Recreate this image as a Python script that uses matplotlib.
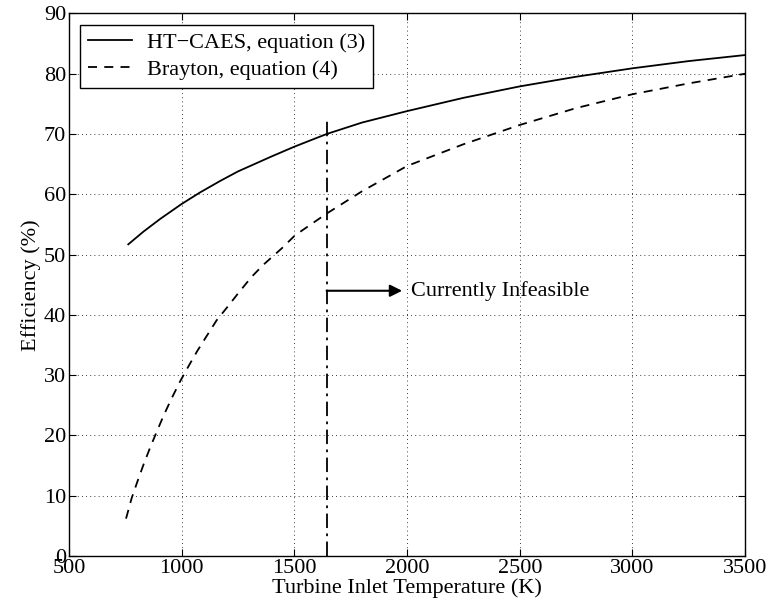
import matplotlib
matplotlib.use("Agg")
import matplotlib.pyplot as plt

# values
ht_temp = [763, 830, 904, 1000, 1081, 1170, 1250, 1400, 1500, 1643, 1800, 2000,
           2250, 2500, 2750, 3000, 3250, 3500]
ht_eff = [51.7, 53.8, 55.9, 58.4, 60.3, 62.2, 63.8, 66.3, 67.9, 70.0, 71.9, 73.8,
          76.0, 77.9, 79.5, 80.9, 82.1, 83.1]

br_temp = [753, 778, 803, 830, 859, 889, 921, 956, 992, 1029, 1069, 1111, 1155,
           1207, 1251, 1310, 1362, 1443, 1503, 1643, 1800, 2000, 2250, 2500,
           2750, 3000, 3250, 3500]
br_eff = [6.2, 9.6, 12.3, 15.1, 17.9, 20.6, 23.4, 26.2, 28.9, 31.4, 34.0, 36.5, 39.1,
          41.5, 43.6, 46.3, 48.3, 51.0, 53.2, 56.8, 60.5, 64.7, 68.3, 71.5,
          74.3, 76.6, 78.4, 80.0]

limit_temp = 1643
limit_top = 72.7
arrow_y = 44
arrow_end = 1978

plt.rcParams['font.family'] = ['Liberation Serif', 'DejaVu Serif']
plt.rcParams['font.size'] = 16

fig = plt.figure(figsize=(7.71, 6.11), dpi=100)
ax = fig.add_axes([0.0895, 0.09, 0.877, 0.888])

ax.plot(ht_temp, ht_eff, 'k-', lw=1.3, label='HT\u2212CAES, equation (3)')
ax.plot(br_temp, br_eff, 'k--', lw=1.3, dashes=(5, 4), label='Brayton, equation (4)')
ax.plot([limit_temp, limit_temp], [0, limit_top], 'k-.', lw=1.3, dashes=(8, 3, 1.5, 3))
ax.annotate('', xy=(arrow_end, arrow_y), xytext=(limit_temp, arrow_y),
            arrowprops=dict(arrowstyle='-|>', color='k', lw=1.5,
                            mutation_scale=18, shrinkA=0, shrinkB=0))
ax.text(arrow_end + 40, arrow_y, 'Currently Infeasible', va='center', ha='left', fontsize=16)

ax.set_xlim(500, 3500)
ax.set_ylim(0, 90)
ax.set_xticks(range(500, 3501, 500))
ax.set_yticks(range(0, 91, 10))
ax.grid(True, color='k', linestyle=(0, (1, 4)), lw=0.6)
ax.tick_params(direction='in', top=True, right=True, length=5, pad=2, labelsize=16)
for s in ax.spines.values():
    s.set_linewidth(1.0)

ax.set_xlabel('Turbine Inlet Temperature (K)', fontsize=16, labelpad=0)
ax.set_ylabel('Efficiency (%)', fontsize=16, labelpad=2)

leg = ax.legend(loc='upper left', fontsize=16, fancybox=False, framealpha=1,
                edgecolor='k', handlelength=2.0, borderaxespad=0.5,
                labelspacing=0.3, borderpad=0.35, handletextpad=0.65)
leg.get_frame().set_linewidth(1.0)

fig.savefig('out.png', dpi=100)
